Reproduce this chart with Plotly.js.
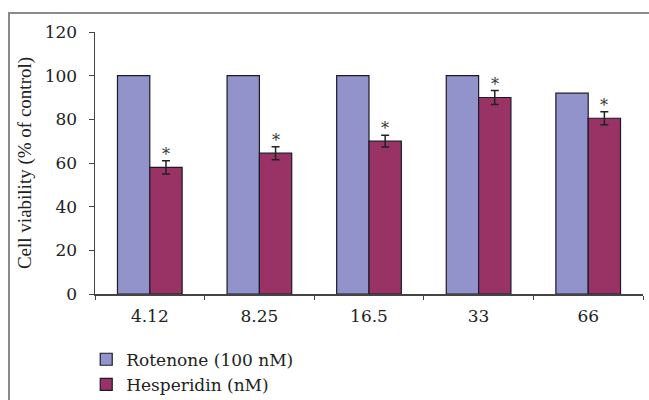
<!DOCTYPE html>
<html>
<head>
<meta charset="utf-8">
<script src="https://cdn.plot.ly/plotly-3.0.1.min.js"></script>
<style>
  html, body { margin: 0; padding: 0; background: #fff; }
  #wrap { position: relative; width: 649px; height: 400px; }
  #chart { width: 649px; height: 400px; }
  #frame { position: absolute; left: 8px; top: 12px; right: 0; bottom: 0;
           border-top: 2px solid #8a8a8a; border-left: 2px solid #8a8a8a; pointer-events: none; }
</style>
</head>
<body>
<div id="wrap">
  <div id="chart"></div>
  <div id="frame"></div>
</div>
<script>
const categories = ["4.12", "8.25", "16.5", "33", "66"];
const rotenone = [100, 100, 100, 100, 92];
const hesperidin = [58, 64.5, 70, 90, 80.5];
const hesperidinErr = [3, 3, 2.7, 3.2, 3];
const seriesNames = ["Rotenone (100 nM)", "Hesperidin (nM)"];
const significance = ["*", "*", "*", "*", "*"];

const FONT = "DejaVu Serif, Liberation Serif, serif";
const bargap = 0.41;
const barW = (1 - bargap) / 2;

const traces = [
  {
    type: "bar", name: seriesNames[0], x: categories, y: rotenone,
    marker: { color: "#9393cb", line: { color: "#1a1a2a", width: 1.2 } }
  },
  {
    type: "bar", name: seriesNames[1], x: categories, y: hesperidin,
    marker: { color: "#993366", line: { color: "#1a1a2a", width: 1.2 } },
    error_y: { type: "data", array: hesperidinErr, visible: true, color: "#222", thickness: 1.5, width: 4 }
  }
];

const annotations = categories.map((c, i) => ({
  x: i + barW / 2, y: hesperidin[i] + hesperidinErr[i], xref: "x", yref: "y",
  text: significance[i], showarrow: false, yanchor: "bottom", yshift: -5,
  font: { family: FONT, size: 16, color: "#333" }
}));

const layout = {
  width: 649, height: 400,
  margin: { l: 95, r: 6, t: 32, b: 106, autoexpand: false },
  paper_bgcolor: "#fff", plot_bgcolor: "#fff",
  barmode: "group", bargap: bargap, bargroupgap: 0,
  showlegend: true,
  legend: {
    x: -0.016, xanchor: "left", y: -0.182, yanchor: "top",
    font: { family: FONT, size: 17, color: "#222" },
    traceorder: "normal", itemwidth: 30, tracegroupgap: 0
  },
  xaxis: {
    type: "category", showline: true, linecolor: "#444", linewidth: 1.5,
    ticks: "outside", tickson: "boundaries", ticklen: 4, tickcolor: "#444",
    ticklabelstandoff: 6,
    tickfont: { family: FONT, size: 17, color: "#222" },
    showgrid: false, zeroline: false
  },
  yaxis: {
    range: [0, 120], dtick: 20, showline: true, linecolor: "#444", linewidth: 1.5,
    ticks: "outside", ticklen: 5, tickcolor: "#444",
    ticklabelstandoff: 8,
    tickfont: { family: FONT, size: 17, color: "#222" },
    showgrid: false, zeroline: false,
    title: { text: "Cell viability (% of control)", font: { family: "Liberation Serif, serif", size: 19, color: "#222" }, standoff: 8 }
  },
  annotations: annotations
};

Plotly.newPlot("chart", traces, layout, { displayModeBar: false, staticPlot: true });
</script>
</body>
</html>
